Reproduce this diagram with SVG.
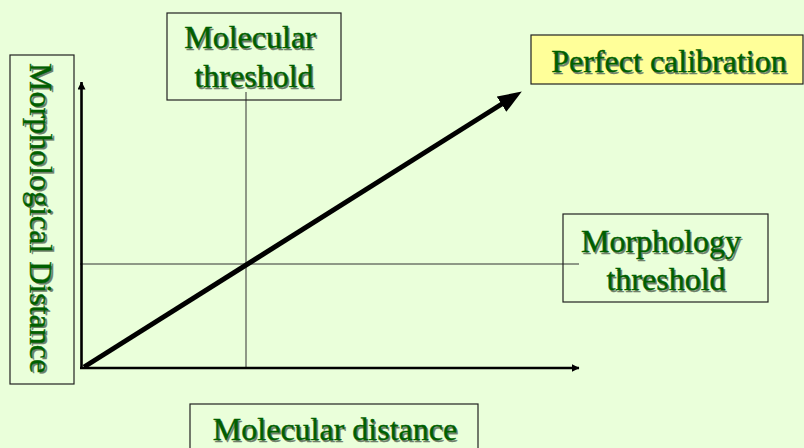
<svg xmlns="http://www.w3.org/2000/svg" width="804" height="448" viewBox="0 0 804 448">
  <defs>
    <style>
      .box { fill: none; stroke: #222; stroke-width: 1.2; }
      .lbl { font-family: "Liberation Serif", "Times New Roman", serif; font-size: 32px; fill: #005f00; stroke: #005f00; stroke-width: 0.4; text-anchor: middle; }
      .sh { font-family: "Liberation Serif", "Times New Roman", serif; font-size: 32px; fill: #6f7f6a; stroke: #6f7f6a; stroke-width: 0.3; text-anchor: middle; }
      .thin { stroke: #333; stroke-width: 1; fill: none; }
      .axis { stroke: #000; stroke-width: 2.6; fill: none; }
    </style>
    <marker id="ah" viewBox="0 0 8 8" refX="7.5" refY="4" markerWidth="8" markerHeight="8" markerUnits="userSpaceOnUse" orient="auto">
      <path d="M0,0 L8,4 L0,8 Z" fill="#000"/>
    </marker>
    <marker id="ahBig" viewBox="0 0 24 18" refX="23" refY="9" markerWidth="24" markerHeight="18" markerUnits="userSpaceOnUse" orient="auto">
      <path d="M0,0 L24,9 L0,18 Z" fill="#000"/>
    </marker>
  </defs>
  <rect x="0" y="0" width="804" height="448" fill="#EAFFDA"/>

  <g id="connectors">
    <line class="thin" x1="246" y1="92" x2="246" y2="368"/>
    <line class="thin" x1="80" y1="264" x2="579" y2="264"/>
    <line class="axis" x1="81.5" y1="369" x2="81.5" y2="82" marker-end="url(#ah)"/>
    <line class="axis" x1="80" y1="368" x2="579" y2="368" marker-end="url(#ah)"/>
    <line x1="84" y1="367" x2="505" y2="102" stroke="#000" stroke-width="5"/>
    <line x1="84" y1="367" x2="521" y2="92" stroke="none" stroke-width="5" marker-end="url(#ahBig)"/>
  </g>

  <g id="y-label">
    <rect class="box" x="10" y="55" width="64" height="329"/>
    <text class="sh" transform="translate(31.5,219.5) rotate(90)">Morphological Distance</text>
    <text class="lbl" transform="translate(30,218) rotate(90)">Morphological Distance</text>
  </g>

  <g id="molecular-threshold">
    <rect class="box" x="167" y="13" width="174" height="87"/>
    <text class="sh" x="251.5" y="49.5">Molecular</text>
    <text class="lbl" x="250" y="48">Molecular</text>
    <text class="sh" x="255.5" y="88.5">threshold</text>
    <text class="lbl" x="254" y="87">threshold</text>
  </g>

  <g id="perfect-calibration">
    <rect x="531" y="35" width="272" height="49" fill="#FFFF99" stroke="#222" stroke-width="1.2"/>
    <text class="sh" x="670.5" y="73.5">Perfect calibration</text>
    <text class="lbl" x="669" y="72">Perfect calibration</text>
  </g>

  <g id="morphology-threshold">
    <rect class="box" x="563" y="214" width="205" height="88"/>
    <text class="sh" x="662.5" y="253.5">Morphology</text>
    <text class="lbl" x="661" y="252">Morphology</text>
    <text class="sh" x="667.5" y="291.5">threshold</text>
    <text class="lbl" x="666" y="290">threshold</text>
  </g>

  <g id="x-label">
    <rect class="box" x="190" y="404" width="288" height="60"/>
    <text class="sh" x="336.5" y="441.5">Molecular distance</text>
    <text class="lbl" x="335" y="440">Molecular distance</text>
  </g>
</svg>
